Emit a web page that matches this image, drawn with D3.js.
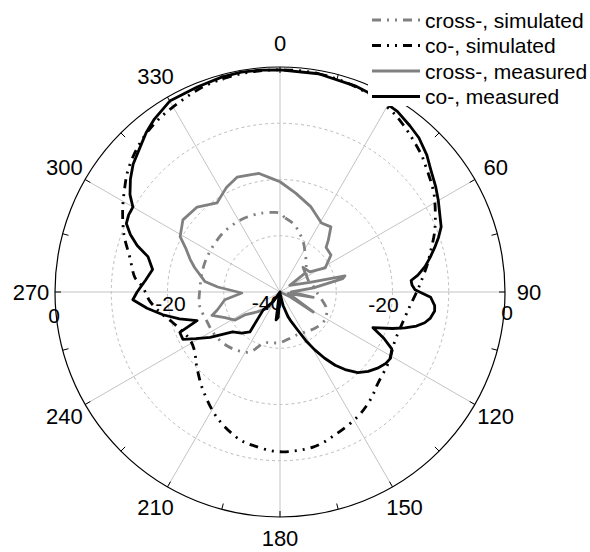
<!DOCTYPE html>
<html>
<head>
<meta charset="utf-8">
<script src="https://cdn.jsdelivr.net/npm/d3@7"></script>
<style>
  body { margin: 0; background: #fff; }
  text { font-family: "Liberation Sans", Arial, sans-serif; fill: #000; }
</style>
</head>
<body>
<script>
const width = 590,
    height = 552;

// angle (deg, clockwise from top), level (dB)
const coMeasured = [[0,-0.5],[10,-0.6],[20,-1.0],[27,-1.3],[33,-1.7],[38,-2.5],[42,-3.1],[47,-4.3],[51,-5.5],[56,-6.6],
  [60,-7.5],[64,-8.4],[68,-9.1],[71,-10.2],[74,-11.4],[77,-12.6],[80,-13.8],[83,-15.3],[85,-16.6],[87,-16.5],[89,-16],
  [92,-13.2],[95,-12.4],[97,-12.3],[100,-12.9],[102,-13.7],[104,-15],[106,-16.9],[108,-19],[111,-22.3],[114,-19.8],
  [117,-17.7],[121,-17.1],[124,-17.3],[128,-18],[132,-18.9],[136,-20.1],[140,-22],[143,-23.7],[146,-25.8],[149,-28],
  [152,-30.2],[155,-32.5],[159,-34.3],[162,-35.4],[167,-37.5],[172,-39.5],[180,-40],[184,-35.5],[188,-35],[192,-39],
  [205,-40],[215,-38],[223,-35.6],[217,-31.1],[223,-30],[230,-29],[237,-25.2],[241,-22.9],[244,-20.8],[248,-20.8],
  [251,-24.4],[255,-21.5],[259,-18.8],[263,-16.2],[267,-13.8],[270,-14.6],[275,-16],[280,-17],[285,-15.7],[288,-13.3],
  [291,-11.5],[294,-10.1],[297,-9.8],[300,-9.8],[303,-8.2],[307,-6.7],[311,-5.4],[316,-4.2],[320,-3],[324,-2],
  [330,-0.8],[338,-0.7],[345,-0.4],[350,-0.3],[355,-0.4]];

const coSimulated = [[0,-0.5],[10,-0.6],[20,-1.1],[30,-2.0],[37,-3.2],[45,-4.8],[48,-5.5],[55,-7.0],[60,-8.2],
  [68,-10.3],[75,-12.3],[80,-13.5],[86,-14.9],[90,-15.7],[95,-16.6],[98,-17],[105,-17.6],[113,-17.8],[123,-17],
  [133,-16.2],[140,-15],[148,-13.9],[158,-12.9],[168,-11.8],[180,-11.6],[190,-12.3],[197,-13.1],[207,-15.1],
  [218,-17.8],[228,-20.1],[235,-21.5],[242,-21.9],[248,-21.3],[254,-20.2],[260,-18.5],[266,-16.8],[272,-15.6],
  [276,-14],[283,-12.6],[290,-10.5],[297,-8.6],[303,-7],[309,-5.3],[316,-3.8],[323,-2.7],[330,-2.0],[340,-1.0],[350,-0.6]];

const crossMeasured = [[0,-20.4],[9,-22.2],[20,-23.9],[31,-25.7],[38,-25.3],[43,-27.4],[46,-28.6],[54,-28.8],
  [62,-30.9],[56,-33.6],[43,-34],[53,-34.4],[56,-37.9],[72,-34.4],[76,-28.1],[78,-28.6],[83,-34],[90,-38],[99,-34],
  [100,-38.5],[121,-33.1],[115,-38],[140,-40],[200,-40],[217,-36.4],[229,-34.6],[237,-32.5],[238,-30.6],[245,-29.2],
  [251,-27.2],[254,-28.4],[262,-30.1],[268.5,-33.2],[274.6,-28.9],[278,-26.5],[286,-24.2],[290,-23],[295,-21.5],
  [299,-19.7],[306.6,-18.5],[315.7,-18.9],[324.7,-20.6],[330,-19.7],[333,-19.1],[339.5,-18.2],[345.6,-18.5],
  [350,-18.6],[356,-19.8]];

const crossSimulated = [[0,-26],[4,-26.8],[10,-27.5],[16,-28.5],[25,-30.2],[33,-31.8],[42,-33],[50,-34],[60,-34.5],
  [70,-34.5],[80,-34],[90,-33.5],[100,-32.5],[110,-31.2],[122,-30.6],[135,-31],[148,-31.6],[160,-31.8],[170,-31.5],
  [180,-31],[190,-30.8],[198,-30.4],[207,-28],[218,-27],[228,-26.4],[238,-26.1],[248,-26],[260,-25.5],[270,-25.7],
  [286,-25.7],[300,-25.6],[316,-25.4],[330,-25.4],[340,-25.5],[348,-25.6],[355,-25.8]];

const angleTicks = d3.range(0, 360, 30);
const minorTicks = d3.range(0, 360, 15);
const ringLevels = [-30, -20, -10];
const legendNames = ["cross-, simulated", "co-, simulated", "cross-, measured", "co-, measured"];

const cx = 280, cy = 292, R = 225;
const DEG2RAD = Math.PI / 180;
const dashDot = "9,6,2,6,2,6";

const r = d3.scaleLinear().domain([-40, 0]).range([0, R]).clamp(true);

const styles = [
  {data: crossSimulated, color: "#808080", dash: dashDot, curve: d3.curveCardinalClosed},
  {data: coSimulated, color: "#000", dash: dashDot, curve: d3.curveCardinalClosed},
  {data: crossMeasured, color: "#808080", dash: null, curve: d3.curveLinearClosed},
  {data: coMeasured, color: "#000", dash: null, curve: d3.curveLinearClosed}
];

var svg = d3.select("body").append("svg")
    .attr("width", width)
    .attr("height", height);

var g = svg.append("g")
    .attr("transform", `translate(${cx},${cy})`);

// grid
g.selectAll(".ring")
    .data(ringLevels)
  .enter().append("circle")
    .attr("r", d => r(d))
    .attr("fill", "none")
    .attr("stroke", "#bbb")
    .attr("stroke-width", 1)
    .attr("stroke-dasharray", "3,3");

g.selectAll(".spoke")
    .data(angleTicks)
  .enter().append("line")
    .attr("x1", 0).attr("y1", 0)
    .attr("x2", d => R * Math.sin(d * DEG2RAD))
    .attr("y2", d => -R * Math.cos(d * DEG2RAD))
    .attr("stroke", "#c4c4c4")
    .attr("stroke-width", 1);

// curves
var line = d3.lineRadial()
    .angle(d => d[0] * DEG2RAD)
    .radius(d => r(d[1]));

styles.forEach(s => {
  g.append("path")
      .attr("d", line.curve(s.curve)(s.data))
      .attr("fill", "none")
      .attr("stroke", s.color)
      .attr("stroke-width", 2.8)
      .attr("stroke-linejoin", "round")
      .attr("stroke-dasharray", s.dash);
});

// frame
g.append("circle")
    .attr("r", R)
    .attr("fill", "none")
    .attr("stroke", "#000")
    .attr("stroke-width", 1.2);

g.selectAll(".tick")
    .data(minorTicks)
  .enter().append("line")
    .attr("x1", d => R * Math.sin(d * DEG2RAD))
    .attr("y1", d => -R * Math.cos(d * DEG2RAD))
    .attr("x2", d => (R - 6) * Math.sin(d * DEG2RAD))
    .attr("y2", d => -(R - 6) * Math.cos(d * DEG2RAD))
    .attr("stroke", "#000")
    .attr("stroke-width", 1);

g.selectAll(".angle-label")
    .data(angleTicks)
  .enter().append("text")
    .attr("x", d => 249 * Math.sin(d * DEG2RAD))
    .attr("y", d => -(d === 180 ? 246 : 249) * Math.cos(d * DEG2RAD))
    .attr("text-anchor", "middle")
    .attr("dominant-baseline", "central")
    .style("font-size", "22px")
    .text(d => d);

// radial labels
var radialLabels = [
  {v: -40, x: -13, y: 10},
  {v: -20, x: -r(-20) + 3, y: 11},
  {v: -20, x: r(-20) - 9, y: 12},
  {v: 0, x: -r(0) - 1, y: 23},
  {v: 0, x: r(0) + 2, y: 20}
];
g.selectAll(".r-label")
    .data(radialLabels)
  .enter().append("text")
    .attr("x", d => d.x)
    .attr("y", d => d.y)
    .attr("text-anchor", "middle")
    .attr("dominant-baseline", "central")
    .style("font-size", "21px")
    .text(d => d.v);

// legend
var legend = svg.append("g");
legend.append("rect")
    .attr("x", 368).attr("y", 0)
    .attr("width", 222).attr("height", 106)
    .attr("fill", "#fff");

legendNames.forEach((name, i) => {
  var y = 20 + i * 25.5;
  legend.append("line")
      .attr("x1", 372).attr("x2", 420)
      .attr("y1", y).attr("y2", y)
      .attr("stroke", styles[i].color)
      .attr("stroke-width", 2.8)
      .attr("stroke-dasharray", styles[i].dash);
  legend.append("text")
      .attr("x", 425)
      .attr("y", y)
      .attr("dominant-baseline", "central")
      .style("font-size", "21px")
      .text(name);
});
</script>
</body>
</html>
